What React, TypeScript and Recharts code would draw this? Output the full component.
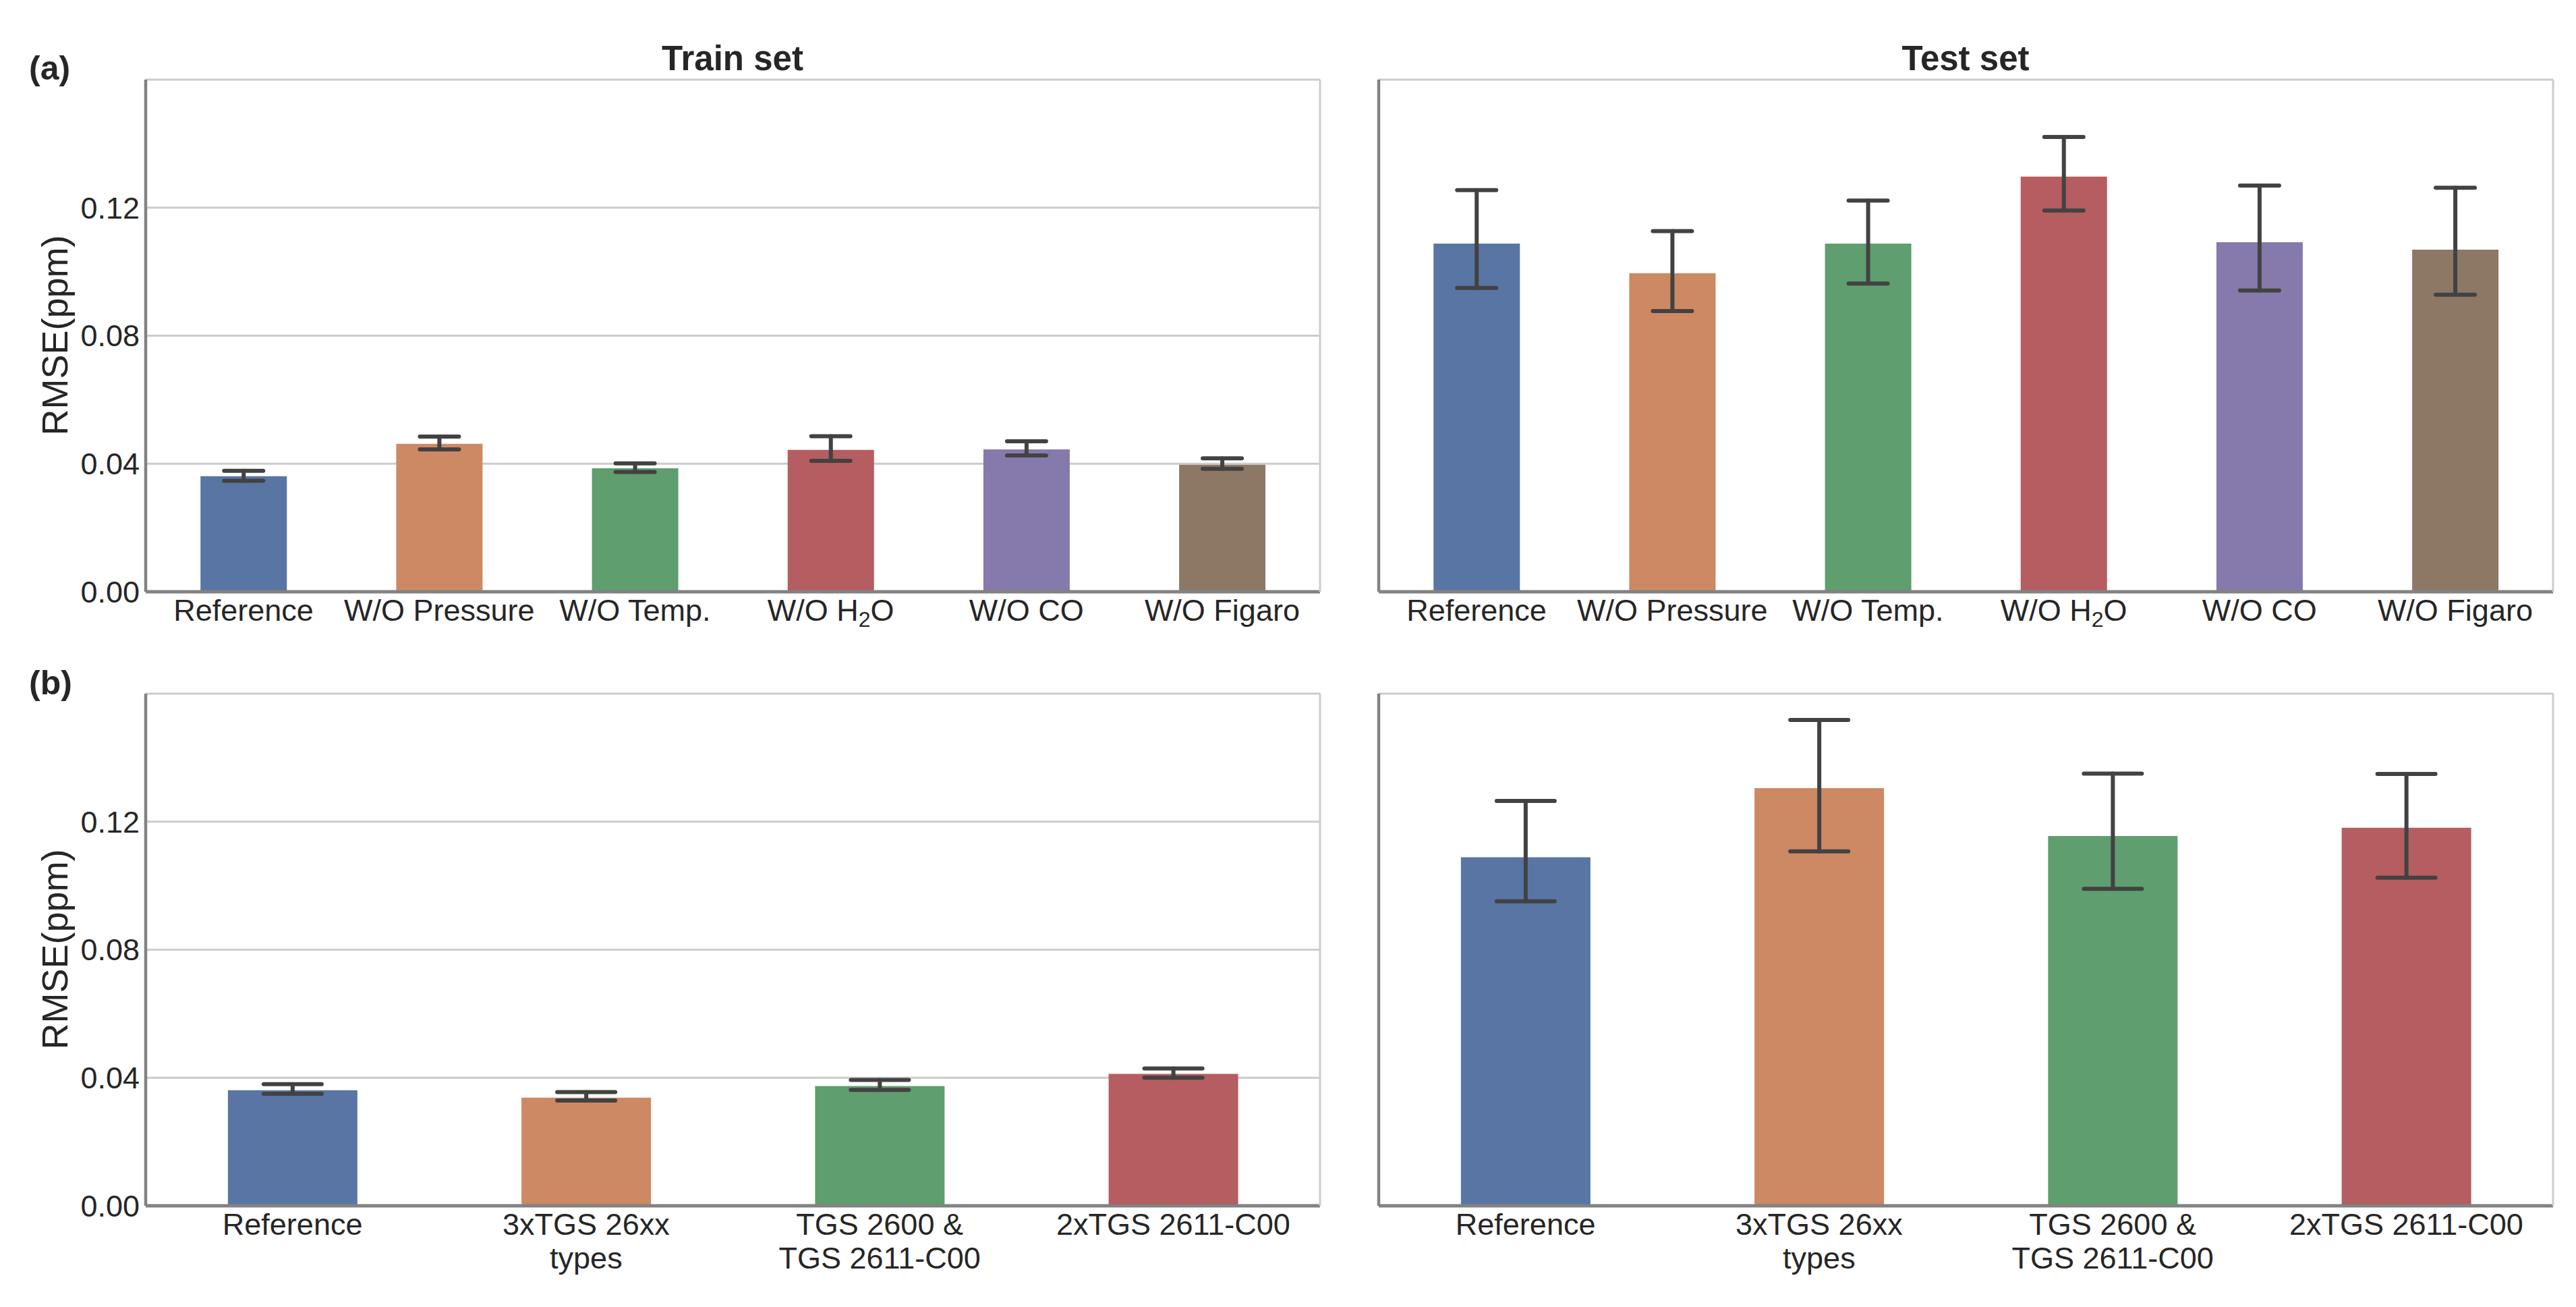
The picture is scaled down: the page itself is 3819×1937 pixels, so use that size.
import React from "react";
import { Bar, BarChart, CartesianGrid, Cell, ErrorBar, XAxis, YAxis } from "recharts";

// Categories and values (RMSE in ppm, mean with low/high error bounds).
const ablationCategories = ["Reference", "W/O Pressure", "W/O Temp.", "W/O H₂O", "W/O CO", "W/O Figaro"];
const ablationTrain = [0.0361, 0.0462, 0.0386, 0.0443, 0.0445, 0.0397];
const ablationTrainLow = [0.0347, 0.0445, 0.0374, 0.0409, 0.0426, 0.0384];
const ablationTrainHigh = [0.0378, 0.0485, 0.0401, 0.0486, 0.047, 0.0417];
const ablationTest = [0.1088, 0.0995, 0.1088, 0.1297, 0.1092, 0.1069];
const ablationTestLow = [0.0949, 0.0877, 0.0963, 0.1191, 0.0941, 0.0928];
const ablationTestHigh = [0.1255, 0.1127, 0.1222, 0.1421, 0.1269, 0.1262];

const sensorCategories = ["Reference", "3xTGS 26xx\ntypes", "TGS 2600 &\nTGS 2611-C00", "2xTGS 2611-C00"];
const sensorTrain = [0.0361, 0.0338, 0.0374, 0.0412];
const sensorTrainLow = [0.035, 0.0329, 0.0362, 0.04];
const sensorTrainHigh = [0.038, 0.0355, 0.0393, 0.0429];
const sensorTest = [0.1089, 0.1305, 0.1155, 0.1181];
const sensorTestLow = [0.0951, 0.1107, 0.099, 0.1025];
const sensorTestHigh = [0.1265, 0.1518, 0.135, 0.1349];

const yTicks = [0, 0.04, 0.08, 0.12, 0.16];

const BAR_COLORS = ["#5875a4", "#cc8963", "#5f9e6e", "#b55d60", "#857aab", "#8d7866"];
const FONT = "'Liberation Sans', Arial, Helvetica, sans-serif";
const TEXT = "#262626";
const SPINE = "#828282";
const FRAME = "#cccccc";

function toRows(cats: string[], vals: number[], lows: number[], highs: number[]) {
  return cats.map((name, i) => ({
    name,
    value: vals[i],
    err: [vals[i] - lows[i], highs[i] - vals[i]],
  }));
}

// "H₂O" gets a lowered, smaller 2 like matplotlib mathtext.
function lineContent(line: string) {
  const idx = line.indexOf("₂");
  if (idx < 0) return line;
  return (
    <>
      {line.slice(0, idx)}
      <tspan dy={9} fontSize={32}>2</tspan>
      <tspan dy={-9}>{line.slice(idx + 1)}</tspan>
    </>
  );
}

function CategoryTick(props: any) {
  const { x, y, payload } = props;
  const lines = String(payload.value).split("\n");
  return (
    <text x={x} y={y} textAnchor="middle" fontSize={45} fill={TEXT} fontFamily={FONT}>
      {lines.map((ln, i) => (
        <tspan key={i} x={x} dy={i === 0 ? 43 : 49.5}>
          {lineContent(ln)}
        </tspan>
      ))}
    </text>
  );
}

type PanelProps = {
  left: number;
  top: number;
  width: number;
  height: number;
  margin: { top: number; right: number; bottom: number; left: number };
  xAxisHeight: number;
  showYTicks: boolean;
  capHalf: number;
  rows: { name: string; value: number; err: number[] }[];
};

function Panel({ left, top, width, height, margin, xAxisHeight, showYTicks, capHalf, rows }: PanelProps) {
  return (
    <div style={{ position: "absolute", left, top }}>
      <BarChart width={width} height={height} data={rows} margin={margin} barCategoryGap="28%">
        <CartesianGrid vertical={false} stroke={FRAME} strokeWidth={3} />
        <XAxis
          dataKey="name"
          height={xAxisHeight}
          interval={0}
          tickLine={false}
          tickSize={0}
          tickMargin={0}
          tick={<CategoryTick />}
          axisLine={{ stroke: SPINE, strokeWidth: 5 }}
        />
        <YAxis
          domain={[0, 0.16]}
          ticks={yTicks}
          width={showYTicks ? 216 : 1}
          tickLine={false}
          tickSize={0}
          tickMargin={9}
          tick={showYTicks ? { fontSize: 45, fill: TEXT, fontFamily: FONT } : false}
          tickFormatter={(v: number) => (v >= 0.16 ? "" : v.toFixed(2))}
          axisLine={{ stroke: SPINE, strokeWidth: 4.5 }}
        />
        <YAxis
          yAxisId="frame"
          orientation="right"
          domain={[0, 0.16]}
          ticks={yTicks}
          width={1}
          tick={false}
          tickLine={false}
          axisLine={{ stroke: FRAME, strokeWidth: 3 }}
        />
        <Bar dataKey="value" isAnimationActive={false}>
          {rows.map((r, i) => (
            <Cell key={r.name} fill={BAR_COLORS[i]} />
          ))}
          <ErrorBar
            dataKey="err"
            width={capHalf}
            stroke="#424242"
            strokeWidth={6}
            strokeLinecap="round"
            isAnimationActive={false}
          />
        </Bar>
      </BarChart>
    </div>
  );
}

export default function App() {
  const topMargin = { top: 118, bottom: 0 };
  const bottomMargin = { top: 68, bottom: 0 };
  return (
    <div
      style={{
        position: "absolute",
        left: 0,
        top: 0,
        width: 3819,
        height: 1937,
        background: "#ffffff",
        overflow: "hidden",
      }}
    >
      <Panel
        left={0}
        top={0}
        width={1990}
        height={960}
        margin={{ ...topMargin, left: 0, right: 32 }}
        xAxisHeight={83}
        showYTicks
        capHalf={29}
        rows={toRows(ablationCategories, ablationTrain, ablationTrainLow, ablationTrainHigh)}
      />
      <Panel
        left={1990}
        top={0}
        width={1829}
        height={960}
        margin={{ ...topMargin, left: 53, right: 33 }}
        xAxisHeight={83}
        showYTicks={false}
        capHalf={29}
        rows={toRows(ablationCategories, ablationTest, ablationTestLow, ablationTestHigh)}
      />
      <Panel
        left={0}
        top={960}
        width={1990}
        height={977}
        margin={{ ...bottomMargin, left: 0, right: 32 }}
        xAxisHeight={150}
        showYTicks
        capHalf={43}
        rows={toRows(sensorCategories, sensorTrain, sensorTrainLow, sensorTrainHigh)}
      />
      <Panel
        left={1990}
        top={960}
        width={1829}
        height={977}
        margin={{ ...bottomMargin, left: 53, right: 33 }}
        xAxisHeight={150}
        showYTicks={false}
        capHalf={43}
        rows={toRows(sensorCategories, sensorTest, sensorTestLow, sensorTestHigh)}
      />
      <svg
        width={3819}
        height={1937}
        style={{ position: "absolute", left: 0, top: 0, pointerEvents: "none" }}
        fontFamily={FONT}
        fill={TEXT}
      >
        <text x={43} y={118} fontSize={50} fontWeight="bold">(a)</text>
        <text x={43} y={1029} fontSize={50} fontWeight="bold">(b)</text>
        <text x={1086} y={104} fontSize={51} fontWeight="bold" textAnchor="middle">Train set</text>
        <text x={2914} y={104} fontSize={51} fontWeight="bold" textAnchor="middle">Test set</text>
        <text transform="translate(100,497) rotate(-90)" fontSize={54} textAnchor="middle">RMSE(ppm)</text>
        <text transform="translate(100,1407) rotate(-90)" fontSize={54} textAnchor="middle">RMSE(ppm)</text>
      </svg>
    </div>
  );
}
